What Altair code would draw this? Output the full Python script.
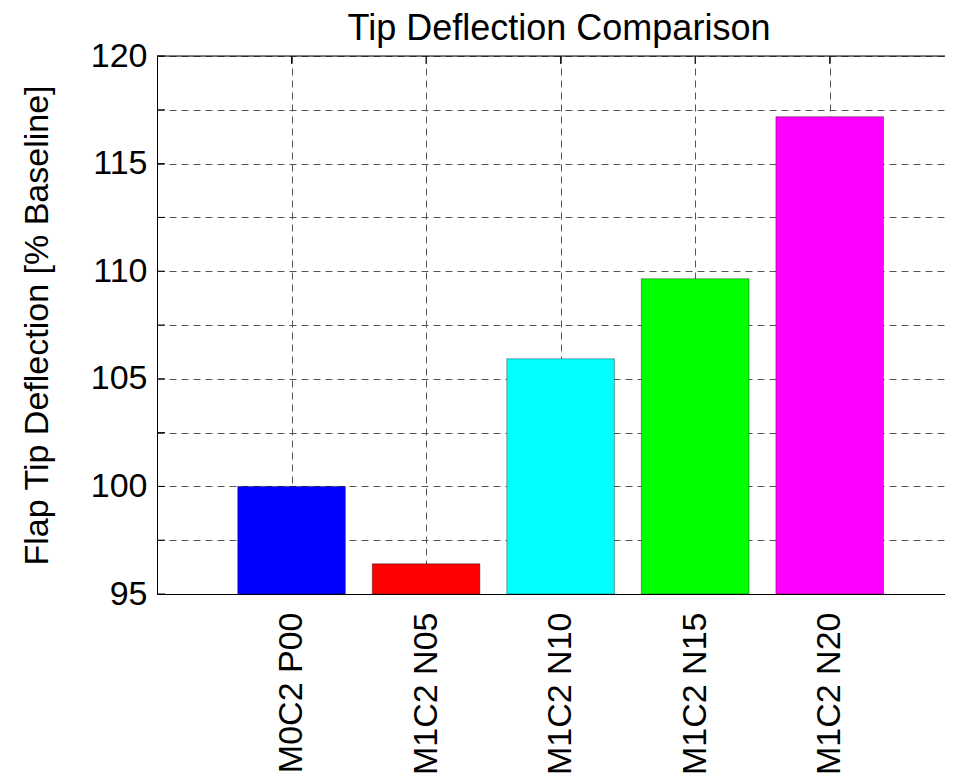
import altair as alt
import pandas as pd

# ---- data ----
categories = ["M0C2 P00", "M1C2 N05", "M1C2 N10", "M1C2 N15", "M1C2 N20"]
positions = [1, 2, 3, 4, 5]
values = [100.0, 96.4, 105.93, 109.65, 117.18]
colors = ["#0000FF", "#FF0000", "#00FFFF", "#00FF00", "#FF00FF"]
y_ticks = [95, 97.5, 100, 102.5, 105, 107.5, 110, 112.5, 115, 117.5, 120]
y_min, y_max = 95, 120
x_min, x_max = 0, 5.857
bar_width = 0.8

df = pd.DataFrame({"cat": categories, "pos": positions, "val": values})
ticks_df = pd.DataFrame({"v": y_ticks})
xticks_df = pd.DataFrame({"pos": positions})
border_df = pd.DataFrame({"x0": [x_min], "x1": [x_max], "y": [y_max]})

FONT = "Liberation Sans"
W, H = 788, 538

label_expr = "[" + ",".join("'" + c + "'" for c in categories) + "][datum.value - 1]"

xscale = alt.Scale(domain=[x_min, x_max], nice=False, zero=False)
yscale = alt.Scale(domain=[y_min, y_max], nice=False, zero=False)

bars = alt.Chart(df).transform_calculate(
    left=f"datum.pos - {bar_width/2}", right=f"datum.pos + {bar_width/2}"
).mark_bar(stroke="#000000", strokeWidth=0.6, strokeOpacity=0.6).encode(
    x=alt.X("left:Q", scale=xscale,
            axis=alt.Axis(values=positions, labelExpr=label_expr, title=None,
                          grid=True, gridDash=[7, 5], gridColor="#555555", gridWidth=1, gridOpacity=1,
                          ticks=False, tickSize=0, domain=True, domainColor="#000000", domainWidth=1,
                          labelAngle=-90, labelPadding=18, labelFont=FONT, labelFontSize=34,
                          labelColor="#000000", labelLimit=500)),
    x2="right:Q",
    y=alt.Y("val:Q", scale=yscale,
            axis=alt.Axis(values=y_ticks,
                          labelExpr="datum.value % 5 == 0 ? datum.label : ''",
                          title="Flap Tip Deflection [% Baseline]",
                          titleFont=FONT, titleFontSize=34, titleFontWeight="normal", titleColor="#000000",
                          titleX=-103, titleY=H / 2, titleAngle=-90, titleAlign="center", titleBaseline="bottom",
                          grid=True, gridDash=[7, 5], gridColor="#555555", gridWidth=1, gridOpacity=1,
                          ticks=False, tickSize=0, domain=True, domainColor="#000000", domainWidth=1,
                          labelPadding=10, labelFont=FONT, labelFontSize=34, labelColor="#000000")),
    y2=alt.datum(y_min),
    color=alt.Color("cat:N", scale=alt.Scale(domain=categories, range=colors), legend=None),
)

left_ticks = alt.Chart(ticks_df).mark_rule(color="#000000", strokeWidth=1).encode(
    y=alt.Y("v:Q", scale=yscale),
    x=alt.value(0),
    x2=alt.value(8),
)

top_ticks = alt.Chart(xticks_df).mark_rule(color="#000000", strokeWidth=1).encode(
    x=alt.X("pos:Q", scale=xscale),
    y=alt.value(0),
    y2=alt.value(8),
)

top_border = alt.Chart(border_df).mark_rule(color="#000000", strokeWidth=1).encode(
    x=alt.X("x0:Q", scale=xscale),
    x2="x1:Q",
    y=alt.Y("y:Q", scale=yscale),
)

chart = alt.layer(bars, left_ticks, top_ticks, top_border).properties(
    width=W,
    height=H,
    title=alt.TitleParams("Tip Deflection Comparison", font=FONT, fontSize=36, fontWeight="normal",
                          color="#000000", anchor="middle", frame="group", dx=8, offset=-37,
                          baseline="alphabetic"),
    autosize=alt.AutoSizeParams(type="none"),
    padding={"left": 149, "top": 48, "right": 0, "bottom": 181},
).configure_view(stroke=None).configure(background="#ffffff")

chart.save("out.html", embed_options={"renderer": "svg", "actions": False})
